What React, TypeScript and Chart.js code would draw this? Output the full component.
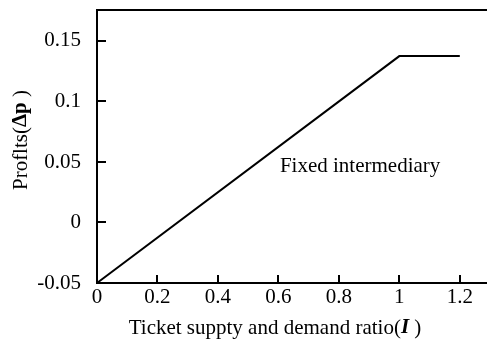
import React, { useEffect, useRef } from "react";
import { Chart, registerables } from "chart.js";

Chart.register(...registerables);

const ratioValues = [0, 1, 1.2];
const profitValues = [-0.05, 0.1375, 0.1375];
const xTickValues = [0, 0.2, 0.4, 0.6, 0.8, 1, 1.2];
const xTickLabels = ["0", "0.2", "0.4", "0.6", "0.8", "1", "1.2"];
const yTickValues = [-0.05, 0, 0.05, 0.1, 0.15];
const yTickLabels = ["-0.05", "0", "0.05", "0.1", "0.15"];
const annotationText = "Fixed intermediary";
const annotationAt = { x: 0.605, y: 0.0464 };

const FONT = '"Liberation Serif", "Times New Roman", serif';
const FS = 21;

const decorPlugin = {
  id: "decor",
  afterDraw(chart: any) {
    const ctx = chart.ctx as CanvasRenderingContext2D;
    const xs = chart.scales.x;
    const ys = chart.scales.y;
    const area = chart.chartArea;
    ctx.save();
    ctx.strokeStyle = "#000";
    ctx.lineWidth = 2;
    // top border
    ctx.beginPath();
    ctx.moveTo(area.left - 1, area.top);
    ctx.lineTo(area.right, area.top);
    ctx.stroke();
    // inward ticks
    xTickValues.forEach((v) => {
      const px = Math.round(xs.getPixelForValue(v));
      ctx.beginPath();
      ctx.moveTo(px, area.bottom);
      ctx.lineTo(px, area.bottom - 8);
      ctx.stroke();
    });
    yTickValues.forEach((v) => {
      const py = Math.round(ys.getPixelForValue(v));
      ctx.beginPath();
      ctx.moveTo(area.left, py);
      ctx.lineTo(area.left + 9, py);
      ctx.stroke();
    });
    // annotation
    ctx.fillStyle = "#000";
    ctx.font = `${FS}px ${FONT}`;
    ctx.textAlign = "left";
    ctx.textBaseline = "middle";
    ctx.fillText(
      annotationText,
      xs.getPixelForValue(annotationAt.x),
      ys.getPixelForValue(annotationAt.y)
    );
    // x title with italic I
    const part1 = "Ticket suppty and demand ratio(";
    const part2 = "I";
    const part3 = " )";
    ctx.font = `${FS}px ${FONT}`;
    const w1 = ctx.measureText(part1).width;
    const w3 = ctx.measureText(part3).width;
    ctx.font = `italic bold ${FS}px ${FONT}`;
    const w2 = ctx.measureText(part2).width;
    const total = w1 + w2 + w3;
    const sx = 275 - total / 2;
    const ty = 328;
    ctx.font = `${FS}px ${FONT}`;
    ctx.fillText(part1, sx, ty);
    ctx.font = `italic bold ${FS}px ${FONT}`;
    ctx.fillText(part2, sx + w1, ty);
    ctx.font = `${FS}px ${FONT}`;
    ctx.fillText(part3, sx + w1 + w2, ty);
    // y title
    ctx.save();
    ctx.translate(21, 140);
    ctx.rotate(-Math.PI / 2);
    const a = "Proflts(";
    const b = "Δp";
    const c = " )";
    ctx.font = `${FS}px ${FONT}`;
    const wa = ctx.measureText(a).width;
    const wc = ctx.measureText(c).width;
    ctx.font = `bold ${FS}px ${FONT}`;
    const wb = ctx.measureText(b).width;
    const tt = wa + wb + wc;
    const yx = -tt / 2;
    ctx.font = `${FS}px ${FONT}`;
    ctx.fillText(a, yx, 0);
    ctx.font = `bold ${FS}px ${FONT}`;
    ctx.fillText(b, yx + wa, 0);
    ctx.font = `${FS}px ${FONT}`;
    ctx.fillText(c, yx + wa + wb, 0);
    ctx.restore();
    ctx.restore();
  },
};

export default function App() {
  const ref = useRef<HTMLCanvasElement | null>(null);
  useEffect(() => {
    document.body.style.margin = "0";
    const canvas = ref.current!;
    const chart = new Chart(canvas, {
      type: "line",
      data: {
        datasets: [
          {
            data: ratioValues.map((x, i) => ({ x, y: profitValues[i] })),
            borderColor: "#000",
            borderWidth: 2,
            pointRadius: 0,
            fill: false,
            tension: 0,
            clip: false as any,
          },
        ],
      },
      options: {
        animation: false,
        responsive: false,
        maintainAspectRatio: false,
        layout: { padding: { top: 10, left: 0, right: 0, bottom: 0 } },
        plugins: {
          legend: { display: false },
          tooltip: { enabled: false },
        },
        scales: {
          x: {
            type: "linear",
            min: 0,
            max: 1.29,
            grid: { display: false, drawTicks: false },
            border: { display: true, color: "#000", width: 2 },
            afterBuildTicks: (s: any) => {
              s.ticks = xTickValues.map((v) => ({ value: v }));
            },
            afterFit: (s: any) => {
              s.height = 63;
              s.paddingLeft = 0;
              s.paddingRight = 0;
            },
            ticks: {
              color: "#000",
              font: { family: FONT, size: FS },
              padding: 2,
              maxRotation: 0,
              autoSkip: false,
              callback: (v: any) => {
                const i = xTickValues.findIndex((t) => Math.abs(t - v) < 1e-9);
                return i >= 0 ? xTickLabels[i] : "";
              },
            },
          },
          y: {
            type: "linear",
            min: -0.05,
            max: 0.1756,
            grid: { display: false, drawTicks: false },
            border: { display: true, color: "#000", width: 2 },
            afterBuildTicks: (s: any) => {
              s.ticks = yTickValues.map((v) => ({ value: v }));
            },
            afterFit: (s: any) => {
              s.width = 97;
              s.paddingTop = 0;
              s.paddingBottom = 0;
            },
            ticks: {
              color: "#000",
              font: { family: FONT, size: FS },
              padding: 16,
              autoSkip: false,
              callback: (v: any) => {
                const i = yTickValues.findIndex((t) => Math.abs(t - v) < 1e-9);
                return i >= 0 ? yTickLabels[i] : "";
              },
            },
          },
        },
      },
      plugins: [decorPlugin],
    });
    return () => chart.destroy();
  }, []);
  return (
    <div style={{ width: 487, height: 346 }}>
      <canvas ref={ref} width={487} height={346} style={{ display: "block" }} />
    </div>
  );
}
